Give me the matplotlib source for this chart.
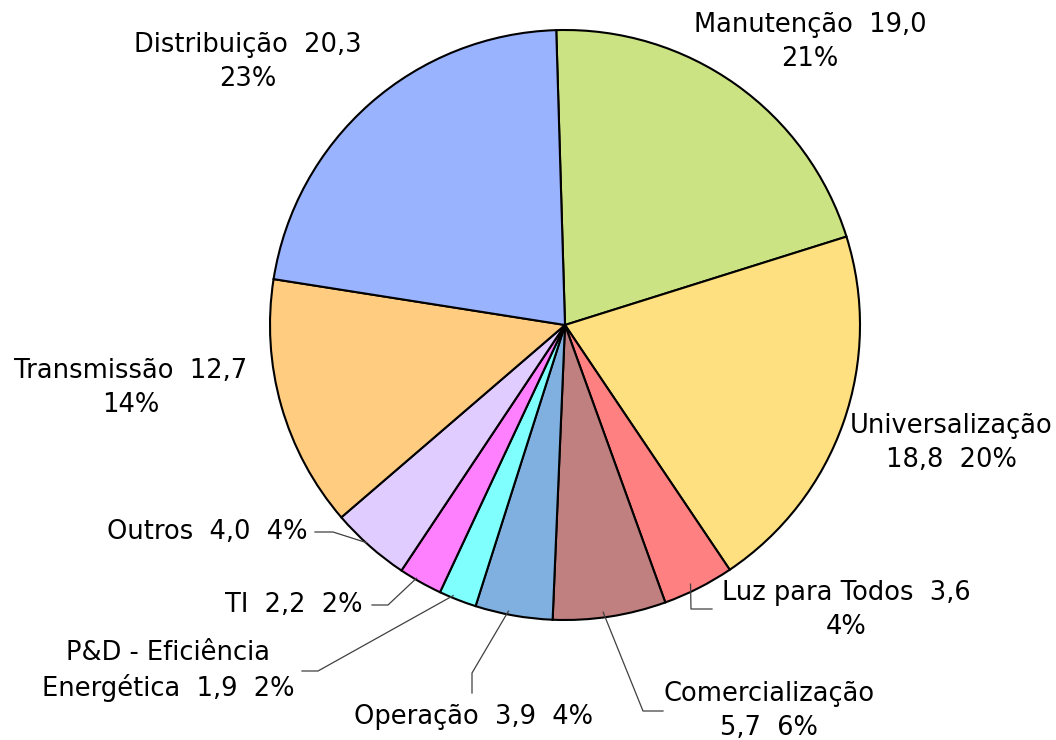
# libraries ----------------------
import numpy as np
import matplotlib
matplotlib.use('Agg')
import matplotlib.pyplot as plt

# data ---------------------------
categorias = ['Manutenção', 'Universalização', 'Luz para Todos', 'Comercialização',
              'Operação', 'P&D - Eficiência Energética', 'TI', 'Outros',
              'Transmissão', 'Distribuição']
valores = [19.0, 18.8, 3.6, 5.7, 3.9, 1.9, 2.2, 4.0, 12.7, 20.3]
percentuais = ['21%', '20%', '4%', '6%', '4%', '2%', '2%', '4%', '14%', '23%']
cores = ['#CCE383', '#FFE080', '#FF8080', '#C08080', '#80B0E0',
         '#80FFFF', '#FF80FF', '#E0CCFF', '#FFCC80', '#99B3FF']

# label text (as in the chart) ---
rotulos = [
    'Manutenção  19,0\n21%',
    'Universalização\n18,8  20%',
    'Luz para Todos  3,6\n4%',
    'Comercialização\n5,7  6%',
    'Operação  3,9  4%',
    'P&D - Eficiência\nEnergética  1,9  2%',
    'TI  2,2  2%',
    'Outros  4,0  4%',
    'Transmissão  12,7\n14%',
    'Distribuição  20,3\n23%',
]

# layout (pixel coords, y from top) ---
W, H = 1056, 740
centro = (565, 325)
raio = 295
inicio = 91.7
pos_texto = [(810, 42), (951, 443), (846, 610), (769, 711), (474, 717),
             (168, 671), (294, 605), (207, 532), (131, 388), (248, 62)]
# elbow of the leader line, and the end at the text (None = no leader)
cotovelo = [None, None, (691, 609), (643, 711), (472, 673),
            (318, 671), (388, 605), (333, 532), None, None]
fim_linha = [None, None, (712, 609), (663, 711), (472, 693),
             (302, 671), (372, 605), (315, 532), None, None]

# plot ---------------------------
fig = plt.figure(figsize=(W / 100, H / 100), dpi=100)
ax = fig.add_axes([0, 0, 1, 1])

cx, cy = centro[0], H - centro[1]
wedges, _ = ax.pie(valores, colors=cores, startangle=inicio, counterclock=False,
                   center=(cx, cy), radius=raio, frame=True,
                   wedgeprops=dict(edgecolor='black', linewidth=1.5))
ax.set_xlim(0, W)
ax.set_ylim(0, H)
ax.set_aspect('equal')
ax.axis('off')

for i, w in enumerate(wedges):
    tx, ty = pos_texto[i]
    ax.text(tx, H - ty, rotulos[i], ha='center', va='center', fontsize=18.5,
            family='DejaVu Sans', linespacing=1.4, color='black')
    if cotovelo[i] is not None:
        meio = np.deg2rad((w.theta1 + w.theta2) / 2)
        ax_ = cx + 0.985 * raio * np.cos(meio) - 6
        ay_ = cy + 0.985 * raio * np.sin(meio)
        ex, ey = cotovelo[i]
        fx, fy = fim_linha[i]
        ax.plot([ax_, ex, fx], [ay_, H - ey, H - fy], color='#404040', lw=0.9)

fig.savefig('out.png', dpi=100)
